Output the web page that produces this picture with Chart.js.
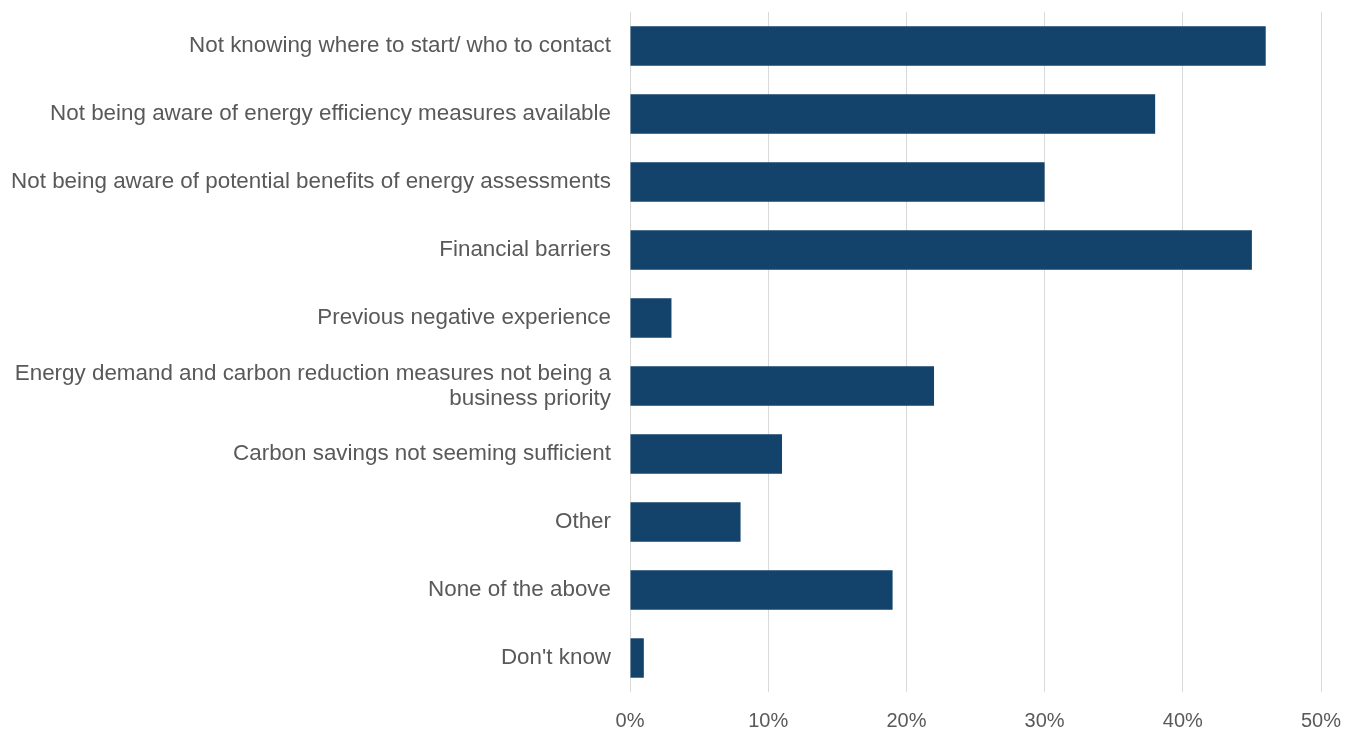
<!DOCTYPE html>
<html>
<head>
<meta charset="utf-8">
<script src="https://cdn.jsdelivr.net/npm/chart.js@4/dist/chart.umd.min.js"></script>
<style>
html,body{margin:0;padding:0;background:#fff;}
#wrap{width:1356px;height:731px;position:relative;}
</style>
</head>
<body>
<div id="wrap"><canvas id="c" width="1356" height="731"></canvas></div>
<script>
const categories = [
  "Not knowing where to start/ who to contact",
  "Not being aware of energy efficiency measures available",
  "Not being aware of potential benefits of energy assessments",
  "Financial barriers",
  "Previous negative experience",
  ["Energy demand and carbon reduction measures not being a", "business priority"],
  "Carbon savings not seeming sufficient",
  "Other",
  "None of the above",
  "Don't know"
];
const values = [46, 38, 30, 45, 3, 22, 11, 8, 19, 1];
const xTicks = [0, 10, 20, 30, 40, 50];

const FONT = "'Liberation Sans', Arial, sans-serif";
new Chart(document.getElementById('c'), {
  type: 'bar',
  data: {
    labels: categories,
    datasets: [{
      data: values,
      backgroundColor: '#13426b',
      borderWidth: 0,
      categoryPercentage: 1,
      barPercentage: 0.58
    }]
  },
  options: {
    indexAxis: 'y',
    responsive: false,
    animation: false,
    layout: { padding: { top: 12, right: 35, bottom: 0, left: 0 } },
    plugins: { legend: { display: false }, tooltip: { enabled: false } },
    scales: {
      x: {
        min: 0, max: 50,
        afterBuildTicks: (s) => { s.ticks = xTicks.map(v => ({ value: v })); },
        grid: { color: '#d9d9d9', lineWidth: 1, drawTicks: false },
        border: { display: false },
        ticks: {
          color: '#595959',
          font: { family: FONT, size: 20 },
          padding: 17,
          callback: (v) => v + '%'
        },
        afterFit: (s) => { s.height = 39; s.paddingLeft = 0; s.paddingRight = 0; }
      },
      y: {
        grid: { display: false, drawTicks: false },
        border: { display: false },
        ticks: {
          color: '#595959',
          font: { family: FONT, size: 22.4, lineHeight: 1.12 },
          padding: 19,
          autoSkip: false
        },
        afterFit: (s) => { s.width = 630; s.paddingTop = 0; s.paddingBottom = 0; }
      }
    }
  }
});
</script>
</body>
</html>
